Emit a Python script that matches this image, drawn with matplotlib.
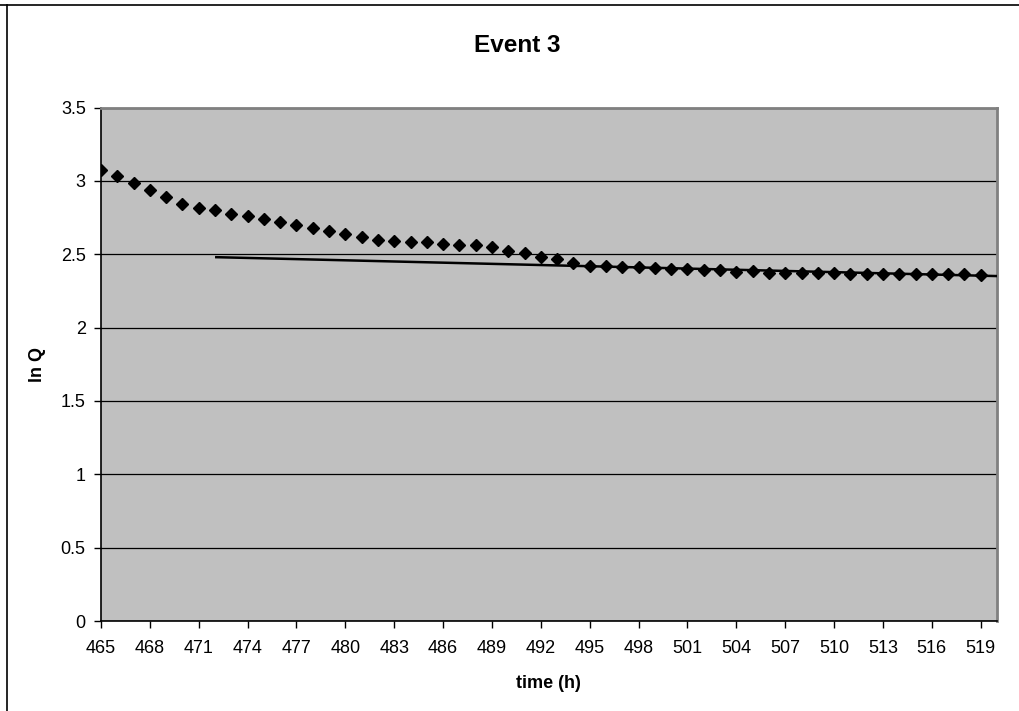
import matplotlib
matplotlib.use("Agg")
import matplotlib.pyplot as plt
from matplotlib.lines import Line2D

plt.rcParams['font.family'] = ['Liberation Sans', 'DejaVu Sans']

# Hourly observations of ln Q
time_h = list(range(465, 520))
ln_q = [3.075, 3.034, 2.984, 2.941, 2.893, 2.843, 2.816, 2.803, 2.775, 2.762,
        2.737, 2.718, 2.696, 2.678, 2.655, 2.639, 2.614, 2.598, 2.589, 2.580,
        2.580, 2.571, 2.564, 2.564, 2.546, 2.521, 2.505, 2.480, 2.464, 2.442,
        2.423, 2.423, 2.415, 2.415, 2.405, 2.396, 2.398, 2.389, 2.389, 2.378,
        2.383, 2.374, 2.374, 2.374, 2.374, 2.374, 2.365, 2.365, 2.365, 2.365,
        2.365, 2.365, 2.365, 2.365, 2.355]

# Fitted recession line
trend_time = [472, 520]
trend_lnq = [2.480, 2.351]

x_ticks = list(range(465, 520, 3))
y_ticks = [0, 0.5, 1, 1.5, 2, 2.5, 3, 3.5]

W, H = 1019, 711
fig = plt.figure(figsize=(W / 100, H / 100), dpi=100)
ax = fig.add_axes([101 / W, 1 - 621 / H, (997 - 101) / W, (621 - 107.5) / H])
ax.set_facecolor('#C0C0C0')

ax.plot(trend_time, trend_lnq, color='black', lw=1.8, zorder=3, solid_capstyle='butt')
ax.plot(time_h, ln_q, linestyle='none', marker='D', markersize=5.8,
        color='black', zorder=4)

ax.set_xlim(465, 520)
ax.set_ylim(0, 3.5)
ax.set_xticks(x_ticks)
ax.set_yticks(y_ticks)
ax.set_yticklabels(['0', '0.5', '1', '1.5', '2', '2.5', '3', '3.5'])
ax.grid(axis='y', color='black', lw=0.9)
ax.set_axisbelow(True)

for side in ('top', 'right'):
    ax.spines[side].set_color('#808080')
    ax.spines[side].set_linewidth(2)
for side in ('left', 'bottom'):
    ax.spines[side].set_color('black')
    ax.spines[side].set_linewidth(1.2)

ax.tick_params(axis='both', direction='out', length=5, width=1, colors='black',
               labelsize=13, pad=6)
ax.tick_params(axis='x', pad=9)

fig.text(517.5 / W, 1 - 45 / H, 'Event 3', ha='center', va='center',
         fontsize=17.5, fontweight='bold')
fig.text(548 / W, 1 - 683 / H, 'time (h)', ha='center', va='center',
         fontsize=13, fontweight='bold')
fig.text(37 / W, 1 - 365 / H, 'ln Q', ha='center', va='center',
         fontsize=13, fontweight='bold', rotation=90)

# Outer chart frame (top and left edges)
fig.add_artist(Line2D([0, 1], [1 - 5 / H, 1 - 5 / H], transform=fig.transFigure,
                      color='black', lw=1.2))
fig.add_artist(Line2D([7 / W, 7 / W], [0, 1 - 5 / H], transform=fig.transFigure,
                      color='black', lw=1.2))

fig.savefig('out.png', dpi=100)
